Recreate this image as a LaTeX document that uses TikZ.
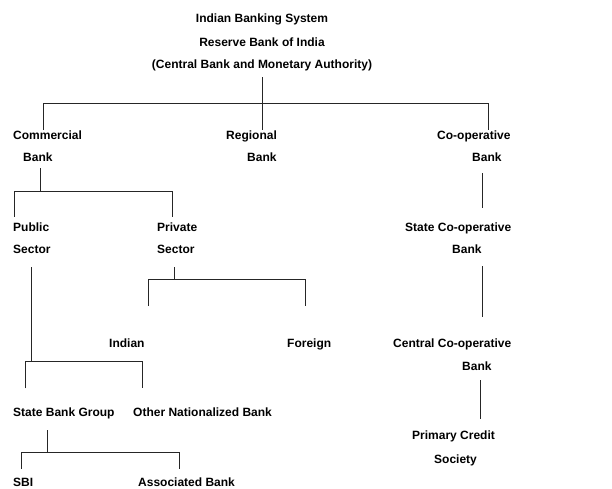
\documentclass[tikz,border=0pt]{standalone}
\usepackage{fontspec}
\setmainfont{Liberation Sans}
\begin{document}
\begin{tikzpicture}[x=1pt,y=-1pt,
                    lbl/.style={font=\fontsize{12}{14}\selectfont\bfseries,
                                inner sep=0pt,anchor=base west},
                    ttl/.style={lbl,anchor=base},
                    link/.style={line width=0.8pt,draw=black!85}]

  \useasboundingbox (0,0) rectangle (612,488);

  \node[ttl] (system) at (262,22.5) {Indian Banking System};
  \node[ttl] (rbi) at (262,46.5) {Reserve Bank of India};
  \node[ttl] (rbi2) at (262,68.5) {(Central Bank and Monetary Authority)};

  \node[lbl] (comm) at (13,139.5) {Commercial};
  \node[lbl] (comm2) at (23,161.5) {Bank};
  \node[lbl] (regional) at (226,139.5) {Regional};
  \node[lbl] (regional2) at (247,161.5) {Bank};
  \node[lbl] (coop) at (437,139.5) {Co-operative};
  \node[lbl] (coop2) at (472,161.5) {Bank};

  \node[lbl] (public) at (13,231) {Public};
  \node[lbl] (public2) at (13,253.5) {Sector};
  \node[lbl] (private) at (157,231) {Private};
  \node[lbl] (private2) at (157,253.5) {Sector};
  \node[lbl] (statecoop) at (405,231) {State Co-operative};
  \node[lbl] (statecoop2) at (452,253.5) {Bank};

  \node[lbl] (indian) at (109,347) {Indian};
  \node[lbl] (foreign) at (287,347) {Foreign};
  \node[lbl] (centralcoop) at (393,347) {Central Co-operative};
  \node[lbl] (centralcoop2) at (462,370) {Bank};

  \node[lbl] (sbgroup) at (13,416) {State Bank Group};
  \node[lbl] (othernat) at (133,416) {Other Nationalized Bank};
  \node[lbl] (pcs) at (412,439.5) {Primary Credit};
  \node[lbl] (pcs2) at (434,463.5) {Society};

  \node[lbl] (sbi) at (13,486.5) {SBI};
  \node[lbl] (assoc) at (138,486.5) {Associated Bank};

  \coordinate (root-t) at (262,77);
  \coordinate (root-b) at (262,130);
  \coordinate (top-l) at (43,130);
  \coordinate (top-lj) at (43,103);
  \coordinate (top-rj) at (488,103);
  \coordinate (top-r) at (488,130);

  \coordinate (comm-t) at (40.7,168);
  \coordinate (comm-b) at (40.7,191);
  \coordinate (sect-l) at (14.7,216.7);
  \coordinate (sect-lj) at (14.7,191);
  \coordinate (sect-rj) at (172.3,191);
  \coordinate (sect-r) at (172.3,216.7);

  \coordinate (priv-t) at (174,267);
  \coordinate (priv-b) at (174,279.3);
  \coordinate (own-l) at (148,306);
  \coordinate (own-lj) at (148,279.3);
  \coordinate (own-rj) at (305.3,279.3);
  \coordinate (own-r) at (305.3,306);

  \coordinate (pub-t) at (31.7,267);
  \coordinate (pub-b) at (31.7,361.3);
  \coordinate (nat-l) at (25,388.3);
  \coordinate (nat-lj) at (25,361.3);
  \coordinate (nat-rj) at (142.3,361.3);
  \coordinate (nat-r) at (142.3,388.3);

  \coordinate (sbg-t) at (47.7,430);
  \coordinate (sbg-b) at (47.7,452.3);
  \coordinate (sbi-l) at (21.7,469);
  \coordinate (sbi-lj) at (21.7,452.3);
  \coordinate (sbi-rj) at (179,452.3);
  \coordinate (sbi-r) at (179,469);

  \coordinate (coop-t) at (482.3,173);
  \coordinate (coop-b) at (482.3,207.7);
  \coordinate (scb-t) at (482.3,266);
  \coordinate (scb-b) at (482.3,317);
  \coordinate (ccb-t) at (480,380);
  \coordinate (ccb-b) at (480,419);

  \draw[link] (root-t) -- (root-b);
  \draw[link] (top-l) -- (top-lj) -- (top-rj) -- (top-r);
  \draw[link] (comm-t) -- (comm-b);
  \draw[link] (sect-l) -- (sect-lj) -- (sect-rj) -- (sect-r);
  \draw[link] (priv-t) -- (priv-b);
  \draw[link] (own-l) -- (own-lj) -- (own-rj) -- (own-r);
  \draw[link] (pub-t) -- (pub-b);
  \draw[link] (nat-l) -- (nat-lj) -- (nat-rj) -- (nat-r);
  \draw[link] (sbg-t) -- (sbg-b);
  \draw[link] (sbi-l) -- (sbi-lj) -- (sbi-rj) -- (sbi-r);
  \draw[link] (coop-t) -- (coop-b);
  \draw[link] (scb-t) -- (scb-b);
  \draw[link] (ccb-t) -- (ccb-b);
\end{tikzpicture}
\end{document}
